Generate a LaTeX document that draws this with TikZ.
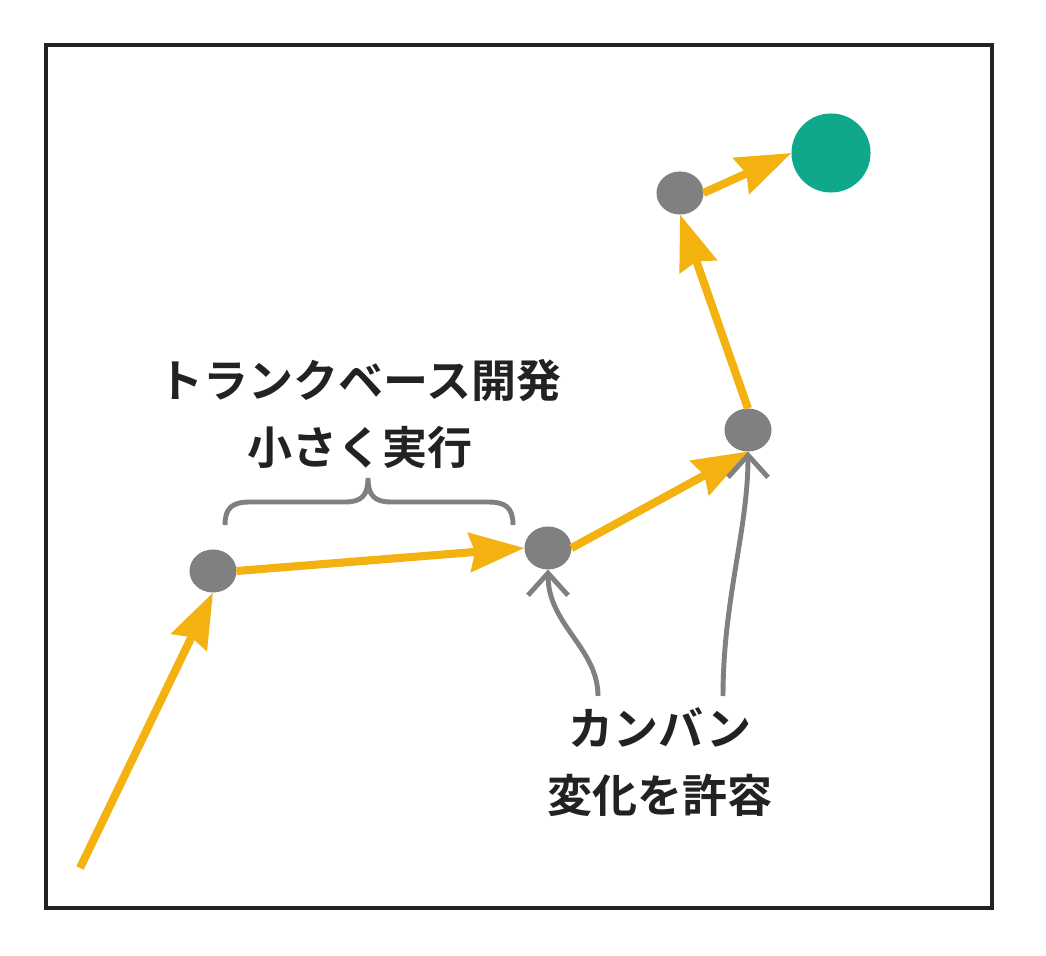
\documentclass[tikz,border=0pt]{standalone}
\usepackage{fontspec}
\newfontfamily\cjk{Noto Sans CJK JP}[BoldFont={Noto Sans CJK JP Bold}]
\usetikzlibrary{arrows.meta,shapes.geometric}
\definecolor{ylw}{HTML}{F3B20F}
\definecolor{gry}{HTML}{808080}
\definecolor{grn}{HTML}{0FA88A}
\definecolor{ink}{HTML}{222222}
\tikzset{
  dot/.style={ellipse,fill=gry,draw=none,minimum width=0.47cm,minimum height=0.43cm,inner sep=0pt,outer sep=0pt},
  goal/.style={circle,fill=grn,draw=none,minimum size=0.79cm,inner sep=0pt,outer sep=0pt},
  ya/.style={draw=ylw,line width=2.3pt,-{Stealth[length=15.6pt,width=11pt,inset=1.5pt]}},
  ga/.style={draw=gry,line width=1.4pt,-{Straight Barb[length=6.3pt,width=11.4pt]}},
  brc/.style={draw=gry,line width=1.4pt},
  lbl/.style={align=center,text=ink,font=\cjk\bfseries\fontsize{12.8pt}{19pt}\selectfont,inner sep=0pt},
  frame/.style={draw=ink,line width=1.4pt}
}
\begin{document}
\begin{tikzpicture}[x=0.01cm,y=-0.01cm]
\useasboundingbox (0,0) rectangle (1046,955);
\draw[frame] (46,45) rectangle (992,908);
\node[dot] (n1) at (213,571) {};
\node[dot] (n2) at (548,548) {};
\node[dot] (n3) at (748,430) {};
\node[dot] (n4) at (680,193) {};
\node[goal] (g) at (831,153) {};
\coordinate (s0) at (80,868);
\draw[ya] (s0) -- (n1.south);
\draw[ya] (n1.east) -- (n2.west);
\draw[ya] (n2.east) -- (n3.south);
\draw[ya] (n3.north) -- (n4.south);
\draw[ya] (n4.east) -- (g.west);
\coordinate (k1) at (598,696);
\coordinate (k2) at (723,696);
\draw[ga] (k1) .. controls (598,648) and (548,625) .. (n2.south);
\draw[ga] (k2) .. controls (723,600) and (748,530) .. (n3.south);
\draw[brc] (225,525) .. controls (225,508) and (232,502) .. (250,502) -- (345,502)
  .. controls (362,502) and (368,495) .. (368,478)
  .. controls (368,495) and (374,502) .. (391,502) -- (488,502)
  .. controls (506,502) and (513,508) .. (513,525);
\node[lbl] (t1) at (360,414) {トランクベース開発\\小さく実行};
\node[lbl] (t2) at (660,762) {カンバン\\変化を許容};
\end{tikzpicture}
\end{document}
